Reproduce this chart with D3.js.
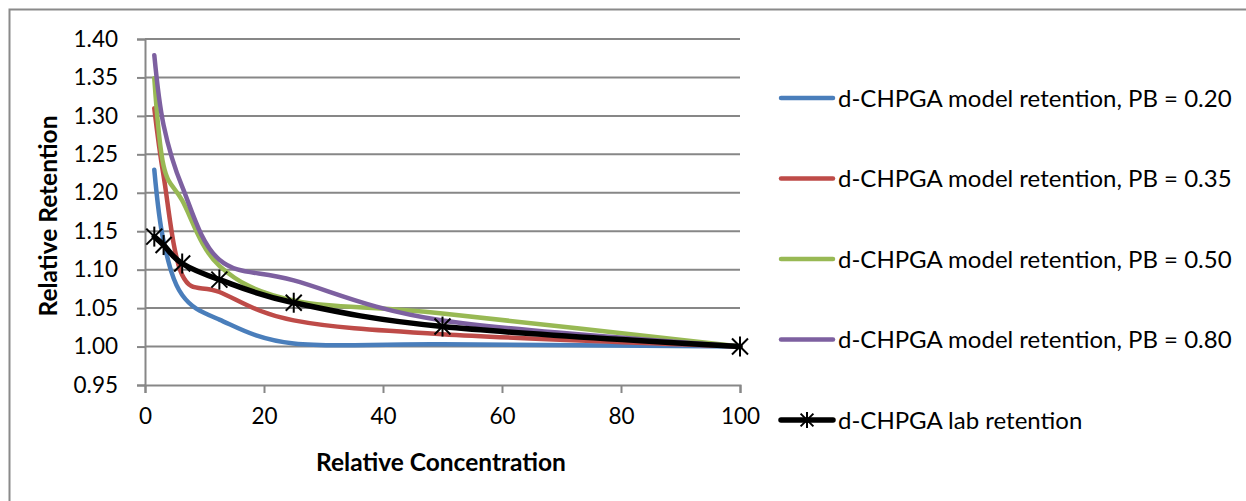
<!DOCTYPE html>
<html>
<head>
<meta charset="utf-8">
<script src="https://cdn.jsdelivr.net/npm/d3@7"></script>
<style>
  html, body { margin: 0; padding: 0; background: #ffffff; }
  svg { display: block; font-family: Lato, "Noto Sans", sans-serif; }
</style>
</head>
<body>
<svg id="chart" width="1246" height="501"></svg>
<script>
// Relative concentration (halving dilution series)
const concentration = [1.5625, 3.125, 6.25, 12.5, 25, 50, 100];

// Model retention curves for different PB values
const modelPB020 = [1.230, 1.137, 1.067, 1.035, 1.004, 1.003, 1.000];
const modelPB035 = [1.310, 1.222, 1.093, 1.071, 1.034, 1.016, 1.000];
const modelPB050 = [1.349, 1.235, 1.190, 1.105, 1.060, 1.043, 1.000];
const modelPB080 = [1.379, 1.288, 1.208, 1.113, 1.086, 1.034, 1.000];

// Measured lab retention
const labRetention = [1.143, 1.132, 1.108, 1.087, 1.057, 1.026, 1.000];

const seriesNames = [
  "d-CHPGA model retention, PB = 0.20",
  "d-CHPGA model retention, PB = 0.35",
  "d-CHPGA model retention, PB = 0.50",
  "d-CHPGA model retention, PB = 0.80",
  "d-CHPGA lab retention"
];

const xTicks = [0, 20, 40, 60, 80, 100];
const yTicks = [0.95, 1.00, 1.05, 1.10, 1.15, 1.20, 1.25, 1.30, 1.35, 1.40];

const xTitle = "Relative Concentration";
const yTitle = "Relative Retention";

const colors = ["#4a7ebb", "#be4b48", "#98b954", "#7d60a0", "#000000"];

const series = [modelPB020, modelPB035, modelPB050, modelPB080, labRetention];

const svg = d3.select("#chart");

// chart frame
svg.append("rect")
  .attr("x", 9.5).attr("y", 9.5)
  .attr("width", 1400).attr("height", 700)
  .attr("fill", "none")
  .attr("stroke", "#8a8a8a")
  .attr("stroke-width", 2);

const plot = { left: 145, right: 740, top: 39, bottom: 385 };

const x = d3.scaleLinear().domain([0, 100]).range([plot.left, plot.right]);
const y = d3.scaleLinear().domain([0.95, 1.40]).range([plot.bottom, plot.top]);

const gridColor = "#878787";
const tickFont = 22.5;

// vertical axis with left tick marks
svg.append("g")
  .attr("transform", `translate(${plot.left},0)`)
  .call(d3.axisLeft(y).tickValues(yTicks).tickSize(8).tickFormat(d3.format(".2f")).tickPadding(19))
  .call(g => g.select(".domain").attr("stroke", gridColor).attr("stroke-width", 2))
  .call(g => g.selectAll(".tick line").attr("stroke", gridColor).attr("stroke-width", 2))
  .call(g => g.selectAll(".tick text").attr("font-size", tickFont).attr("fill", "#000").attr("font-family", "Lato"));

// horizontal gridlines
svg.append("g")
  .selectAll("line")
  .data(yTicks.filter(v => v > 0.95))
  .join("line")
  .attr("x1", plot.left).attr("x2", plot.right)
  .attr("y1", d => y(d)).attr("y2", d => y(d))
  .attr("stroke", gridColor).attr("stroke-width", 2);

// x axis
svg.append("g")
  .attr("transform", `translate(0,${plot.bottom})`)
  .call(d3.axisBottom(x).tickValues(xTicks).tickSize(8).tickPadding(15))
  .call(g => g.select(".domain").attr("stroke", gridColor).attr("stroke-width", 2))
  .call(g => g.selectAll(".tick line").attr("stroke", gridColor).attr("stroke-width", 2))
  .call(g => g.selectAll(".tick text").attr("font-size", tickFont).attr("fill", "#000").attr("font-family", "Lato"));

// axis titles
svg.append("text")
  .attr("x", 441).attr("y", 471)
  .attr("text-anchor", "middle")
  .attr("font-size", 24.5).attr("font-weight", "bold")
  .text(xTitle);

svg.append("text")
  .attr("transform", "translate(57,216) rotate(-90)")
  .attr("text-anchor", "middle")
  .attr("font-size", 24.5).attr("font-weight", "bold")
  .text(yTitle);

// smoothed series lines
const line = d3.line()
  .x((d, i) => x(concentration[i]))
  .y(d => y(d))
  .curve(d3.curveCardinal.tension(0));

series.forEach((vals, k) => {
  svg.append("path")
    .datum(vals)
    .attr("fill", "none")
    .attr("stroke", colors[k])
    .attr("stroke-width", k === 4 ? 5.5 : 4.5)
    .attr("stroke-linecap", "round")
    .attr("stroke-linejoin", "round")
    .attr("d", line);
});

// asterisk markers on lab retention
function star(g, cx, cy, r) {
  const arms = [[0, -r, 0, r], [-r * 0.8, -r * 0.8, r * 0.8, r * 0.8], [-r * 0.8, r * 0.8, r * 0.8, -r * 0.8]];
  arms.forEach(a => {
    g.append("line")
      .attr("x1", cx + a[0]).attr("y1", cy + a[1])
      .attr("x2", cx + a[2]).attr("y2", cy + a[3])
      .attr("stroke", "#000").attr("stroke-width", 2);
  });
}

const markers = svg.append("g");
labRetention.forEach((v, i) => star(markers, x(concentration[i]), y(v), 10));

// legend
const legend = svg.append("g");
const rowY = [98, 178.5, 259, 339.5, 420];
seriesNames.forEach((name, k) => {
  legend.append("line")
    .attr("x1", 781).attr("x2", 833)
    .attr("y1", rowY[k]).attr("y2", rowY[k])
    .attr("stroke", colors[k])
    .attr("stroke-width", k === 4 ? 5.5 : 4.5)
    .attr("stroke-linecap", "round");
  if (k === 4) star(legend, 807, rowY[k], 8);
  legend.append("text")
    .attr("x", 838).attr("y", rowY[k] + 8.5)
    .attr("font-size", 24)
    .attr("fill", "#000")
    .text(name);
});
</script>
</body>
</html>
